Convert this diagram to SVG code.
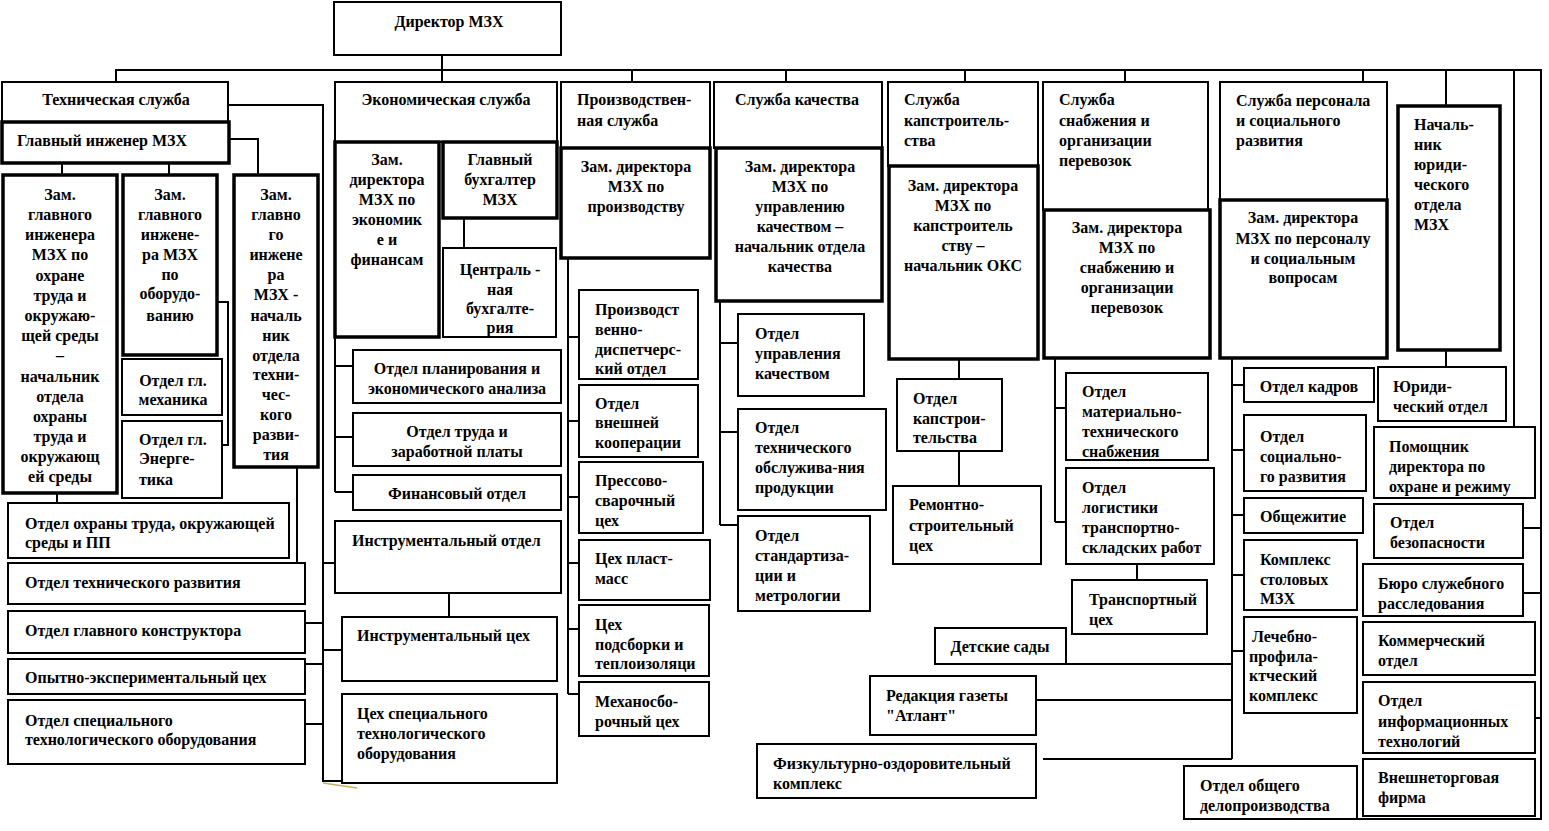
<svg xmlns="http://www.w3.org/2000/svg" width="1549" height="831" viewBox="0 0 1549 831">
<style>
rect{fill:#fff;stroke:#000;stroke-width:2}
rect.k{stroke-width:3.5}
text{font-family:"Liberation Serif","Times New Roman",serif;font-weight:bold;font-size:16px;fill:#000}
.c{text-anchor:middle}
#conn path{fill:none;stroke:#000;stroke-width:2}
</style>
<rect x="0" y="0" width="1549" height="831" style="stroke:none"/>
<g id="conn">
<path d="M442 55V82M116 82V70H1541V819H1357"/>
<path d="M632 70V82M786 70V82M965 70V82M1125 70V82M1363 70V82M1446 70V106M1514 70V427"/>
<path d="M228 105H323V781H342M323 563H335M323 650H342M305 623H323M305 664H323M305 724H323"/>
<path d="M229 139H258V175M62 163V175M169 163V175M217 302H228V445H222M57 493V503M297 467V563"/>
<path d="M335 337V492M335 366H353M335 437H353M335 492H353M464 218V248M449 593V617"/>
<path d="M568 258V694M568 337H579M568 421H579M568 497H579M568 563H579M568 629H579M568 694H579"/>
<path d="M720 301V525M720 343H738M720 432H738M720 525H738"/>
<path d="M959 359V379M959 451V486"/>
<path d="M1055 358V522M1055 408H1066M1055 522H1066M1137 564V580"/>
<path d="M1232 358V759M1232 385H1244M1232 450H1244M1232 515H1244M1232 575H1244M1232 651H1244M1066 664H1232M1036 700H1232M1043 759H1232"/>
<path d="M1446 350V367M1523 528H1541M1523 593H1541M1535 718H1541"/>
<path d="M323 783L357 788" style="stroke:#c8b060;stroke-width:1.5"/>
</g>
<g id="director"><rect x="334" y="2" width="227" height="53"/><text class="c" x="449" y="27">Директор МЗХ</text></g>
<g id="tech"><rect x="2" y="82" width="226" height="40"/><text class="c" x="116" y="105">Техническая служба</text></g>
<g id="chief-eng"><rect class="k" x="2" y="122" width="227" height="41"/><text class="c" x="102" y="146">Главный инженер МЗХ</text></g>
<g id="zam1"><rect class="k" x="3" y="175" width="114" height="318"/><text class="c"><tspan x="60" y="200">Зам.</tspan><tspan x="60" y="220">главного</tspan><tspan x="60" y="240">инженера</tspan><tspan x="60" y="260">МЗХ по</tspan><tspan x="60" y="281">охране</tspan><tspan x="60" y="301">труда и</tspan><tspan x="60" y="321">окружаю-</tspan><tspan x="60" y="341">щей среды</tspan><tspan x="60" y="361">–</tspan><tspan x="60" y="382">начальник</tspan><tspan x="60" y="402">отдела</tspan><tspan x="60" y="422">охраны</tspan><tspan x="60" y="442">труда и</tspan><tspan x="60" y="462">окружающ</tspan><tspan x="60" y="482">ей среды</tspan></text></g>
<g id="zam2"><rect class="k" x="123" y="175" width="94" height="180"/><text class="c"><tspan x="170" y="200">Зам.</tspan><tspan x="170" y="220">главного</tspan><tspan x="170" y="240">инжене-</tspan><tspan x="170" y="260">ра МЗХ</tspan><tspan x="170" y="280">по</tspan><tspan x="170" y="299">оборудо-</tspan><tspan x="170" y="321">ванию</tspan></text></g>
<g id="zam3"><rect class="k" x="234" y="175" width="84" height="292"/><text class="c"><tspan x="276" y="200">Зам.</tspan><tspan x="276" y="220">главно</tspan><tspan x="276" y="240">го</tspan><tspan x="276" y="260">инжене</tspan><tspan x="276" y="280">ра</tspan><tspan x="276" y="300">МЗХ -</tspan><tspan x="276" y="321">началь</tspan><tspan x="276" y="341">ник</tspan><tspan x="276" y="361">отдела</tspan><tspan x="276" y="380">техни-</tspan><tspan x="276" y="400">чес-</tspan><tspan x="276" y="420">кого</tspan><tspan x="276" y="440">разви-</tspan><tspan x="276" y="460">тия</tspan></text></g>
<g id="mech"><rect x="122" y="359" width="100" height="56"/><text class="c"><tspan x="173" y="386">Отдел гл.</tspan><tspan x="173" y="405">механика</tspan></text></g>
<g id="energ"><rect x="122" y="421" width="100" height="77"/><text><tspan x="139" y="445">Отдел гл.</tspan><tspan x="139" y="464">Энерге-</tspan><tspan x="139" y="485">тика</tspan></text></g>
<g id="ohrana"><rect x="8" y="503" width="281" height="55"/><text><tspan x="25" y="529">Отдел  охраны труда,  окружающей</tspan><tspan x="25" y="548">среды и ПП</tspan></text></g>
<g id="tech-razv"><rect x="8" y="563" width="297" height="41"/><text x="25" y="588">Отдел технического развития</text></g>
<g id="gl-konstr"><rect x="8" y="611" width="297" height="42"/><text x="25" y="636">Отдел главного конструктора</text></g>
<g id="opyt"><rect x="8" y="659" width="297" height="35"/><text x="25" y="683">Опытно-экспериментальный цех</text></g>
<g id="spec-obor"><rect x="8" y="700" width="297" height="64"/><text><tspan x="25" y="726">Отдел специального</tspan><tspan x="25" y="745">технологического оборудования</tspan></text></g>
<g id="econ"><rect x="335" y="82" width="222" height="60"/><text class="c" x="446" y="105">Экономическая служба</text></g>
<g id="zam-econ"><rect class="k" x="335" y="142" width="104" height="195"/><text class="c"><tspan x="387" y="165">Зам.</tspan><tspan x="387" y="185">директора</tspan><tspan x="387" y="205">МЗХ по</tspan><tspan x="387" y="225">экономик</tspan><tspan x="387" y="245">е и</tspan><tspan x="387" y="265">финансам</tspan></text></g>
<g id="gl-buh"><rect class="k" x="443" y="142" width="114" height="76"/><text class="c"><tspan x="500" y="165">Главный</tspan><tspan x="500" y="185">бухгалтер</tspan><tspan x="500" y="205">МЗХ</tspan></text></g>
<g id="centr-buh"><rect x="443" y="248" width="113" height="89"/><text class="c"><tspan x="500" y="275">Централь -</tspan><tspan x="500" y="295">ная</tspan><tspan x="500" y="314">бухгалте-</tspan><tspan x="500" y="333">рия</tspan></text></g>
<g id="plan"><rect x="353" y="350" width="208" height="53"/><text class="c"><tspan x="457" y="374">Отдел планирования и</tspan><tspan x="457" y="394">экономического анализа</tspan></text></g>
<g id="trud"><rect x="353" y="413" width="208" height="53"/><text class="c"><tspan x="457" y="437">Отдел труда и</tspan><tspan x="457" y="457">заработной платы</tspan></text></g>
<g id="fin"><rect x="353" y="475" width="208" height="35"/><text class="c" x="457" y="499">Финансовый отдел</text></g>
<g id="instr-otd"><rect x="335" y="521" width="226" height="72"/><text x="352" y="546">Инструментальный отдел</text></g>
<g id="instr-ceh"><rect x="342" y="617" width="215" height="64"/><text x="357" y="641">Инструментальный цех</text></g>
<g id="ceh-spec"><rect x="342" y="694" width="215" height="89"/><text><tspan x="357" y="719">Цех специального</tspan><tspan x="357" y="739">технологического</tspan><tspan x="357" y="759">оборудования</tspan></text></g>
<g id="proizv"><rect x="561" y="82" width="149" height="66"/><text><tspan x="577" y="105">Производствен-</tspan><tspan x="577" y="126">ная служба</tspan></text></g>
<g id="zam-proizv"><rect class="k" x="561" y="148" width="149" height="110"/><text class="c"><tspan x="636" y="172">Зам. директора</tspan><tspan x="636" y="192">МЗХ по</tspan><tspan x="636" y="212">производству</tspan></text></g>
<g id="pdo"><rect x="579" y="290" width="119" height="89"/><text><tspan x="595" y="315">Производст</tspan><tspan x="595" y="335">венно-</tspan><tspan x="595" y="355">диспетчерс-</tspan><tspan x="595" y="374">кий отдел</tspan></text></g>
<g id="vnesh"><rect x="579" y="385" width="119" height="72"/><text><tspan x="595" y="409">Отдел</tspan><tspan x="595" y="428">внешней</tspan><tspan x="595" y="448">кооперации</tspan></text></g>
<g id="press"><rect x="579" y="462" width="124" height="71"/><text><tspan x="595" y="486">Прессово-</tspan><tspan x="595" y="506">сварочный</tspan><tspan x="595" y="526">цех</tspan></text></g>
<g id="plast"><rect x="579" y="540" width="131" height="60"/><text><tspan x="595" y="564">Цех пласт-</tspan><tspan x="595" y="584">масс</tspan></text></g>
<g id="podsb"><rect x="579" y="605" width="130" height="71"/><text><tspan x="595" y="630">Цех</tspan><tspan x="595" y="650">подсборки и</tspan><tspan x="595" y="669">теплоизоляци</tspan></text></g>
<g id="mehsb"><rect x="579" y="682" width="130" height="54"/><text><tspan x="595" y="707">Механосбо-</tspan><tspan x="595" y="727">рочный цех</tspan></text></g>
<g id="kach"><rect x="714" y="82" width="168" height="66"/><text class="c" x="797" y="105">Служба качества</text></g>
<g id="zam-kach"><rect class="k" x="716" y="148" width="166" height="153"/><text class="c"><tspan x="800" y="172">Зам. директора</tspan><tspan x="800" y="192">МЗХ по</tspan><tspan x="800" y="212">управлению</tspan><tspan x="800" y="232">качеством –</tspan><tspan x="800" y="252">начальник отдела</tspan><tspan x="800" y="272">качества</tspan></text></g>
<g id="upr-kach"><rect x="738" y="314" width="126" height="82"/><text><tspan x="755" y="339">Отдел</tspan><tspan x="755" y="359">управления</tspan><tspan x="755" y="379">качеством</tspan></text></g>
<g id="tech-obsl"><rect x="738" y="409" width="148" height="101"/><text><tspan x="755" y="433">Отдел</tspan><tspan x="755" y="453">технического</tspan><tspan x="755" y="473">обслужива-ния</tspan><tspan x="755" y="493">продукции</tspan></text></g>
<g id="stand"><rect x="738" y="516" width="132" height="95"/><text><tspan x="755" y="541">Отдел</tspan><tspan x="755" y="561">стандартиза-</tspan><tspan x="755" y="581">ции и</tspan><tspan x="755" y="601">метрологии</tspan></text></g>
<g id="kap"><rect x="888" y="82" width="150" height="84"/><text><tspan x="904" y="105">Служба</tspan><tspan x="904" y="126">капстроитель-</tspan><tspan x="904" y="146">ства</tspan></text></g>
<g id="zam-kap"><rect class="k" x="889" y="166" width="149" height="193"/><text class="c"><tspan x="963" y="191">Зам. директора</tspan><tspan x="963" y="211">МЗХ по</tspan><tspan x="963" y="231">капстроитель</tspan><tspan x="963" y="251">ству –</tspan><tspan x="963" y="271">начальник ОКС</tspan></text></g>
<g id="otd-kap"><rect x="897" y="379" width="105" height="72"/><text><tspan x="913" y="404">Отдел</tspan><tspan x="913" y="424">капстрои-</tspan><tspan x="913" y="443">тельства</tspan></text></g>
<g id="rem"><rect x="893" y="486" width="148" height="78"/><text><tspan x="909" y="510">Ремонтно-</tspan><tspan x="909" y="531">строительный</tspan><tspan x="909" y="551">цех</tspan></text></g>
<g id="snab"><rect x="1043" y="82" width="165" height="128"/><text><tspan x="1059" y="105">Служба</tspan><tspan x="1059" y="126">снабжения и</tspan><tspan x="1059" y="146">организации</tspan><tspan x="1059" y="166">перевозок</tspan></text></g>
<g id="zam-snab"><rect class="k" x="1044" y="210" width="166" height="148"/><text class="c"><tspan x="1127" y="233">Зам. директора</tspan><tspan x="1127" y="253">МЗХ по</tspan><tspan x="1127" y="273">снабжению и</tspan><tspan x="1127" y="293">организации</tspan><tspan x="1127" y="313">перевозок</tspan></text></g>
<g id="mat-tech"><rect x="1066" y="373" width="142" height="87"/><text><tspan x="1082" y="397">Отдел</tspan><tspan x="1082" y="417">материально-</tspan><tspan x="1082" y="437">технического</tspan><tspan x="1082" y="457">снабжения</tspan></text></g>
<g id="logist"><rect x="1066" y="468" width="148" height="96"/><text><tspan x="1082" y="493">Отдел</tspan><tspan x="1082" y="513">логистики</tspan><tspan x="1082" y="533">транспортно-</tspan><tspan x="1082" y="553">складских работ</tspan></text></g>
<g id="transp"><rect x="1072" y="580" width="135" height="54"/><text><tspan x="1089" y="605">Транспортный</tspan><tspan x="1089" y="625">цех</tspan></text></g>
<g id="det-sady"><rect x="935" y="628" width="131" height="36"/><text class="c" x="1000" y="652">Детские сады</text></g>
<g id="redak"><rect x="870" y="676" width="166" height="59"/><text><tspan x="886" y="701">Редакция газеты</tspan><tspan x="886" y="721">"Атлант"</tspan></text></g>
<g id="fizk"><rect x="757" y="744" width="279" height="54"/><text><tspan x="773" y="769">Физкультурно-оздоровительный</tspan><tspan x="773" y="789">комплекс</tspan></text></g>
<g id="pers"><rect x="1220" y="82" width="167" height="118"/><text><tspan x="1236" y="106">Служба персонала</tspan><tspan x="1236" y="126">и социального</tspan><tspan x="1236" y="146">развития</tspan></text></g>
<g id="zam-pers"><rect class="k" x="1220" y="200" width="167" height="158"/><text class="c"><tspan x="1303" y="223">Зам. директора</tspan><tspan x="1303" y="244">МЗХ по персоналу</tspan><tspan x="1303" y="264">и социальным</tspan><tspan x="1303" y="283">вопросам</tspan></text></g>
<g id="kadr"><rect x="1244" y="368" width="130" height="34"/><text class="c" x="1309" y="392">Отдел кадров</text></g>
<g id="soc"><rect x="1244" y="415" width="122" height="76"/><text><tspan x="1260" y="442">Отдел</tspan><tspan x="1260" y="462">социально-</tspan><tspan x="1260" y="482">го развития</tspan></text></g>
<g id="obsch"><rect x="1244" y="498" width="119" height="35"/><text class="c" x="1303" y="522">Общежитие</text></g>
<g id="stol"><rect x="1244" y="540" width="113" height="70"/><text><tspan x="1260" y="565">Комплекс</tspan><tspan x="1260" y="585">столовых</tspan><tspan x="1260" y="604">МЗХ</tspan></text></g>
<g id="lech"><rect x="1244" y="617" width="113" height="96"/><text><tspan x="1252" y="642">Лечебно-</tspan><tspan x="1249" y="662">профила-</tspan><tspan x="1249" y="681">ктческий</tspan><tspan x="1249" y="701">комплекс</tspan></text></g>
<g id="nach-yur"><rect class="k" x="1398" y="106" width="102" height="244"/><text><tspan x="1414" y="130">Началь-</tspan><tspan x="1414" y="150">ник</tspan><tspan x="1414" y="170">юриди-</tspan><tspan x="1414" y="190">ческого</tspan><tspan x="1414" y="210">отдела</tspan><tspan x="1414" y="230">МЗХ</tspan></text></g>
<g id="yur-otd"><rect x="1378" y="367" width="128" height="54"/><text><tspan x="1393" y="392">Юриди-</tspan><tspan x="1393" y="412">ческий отдел</tspan></text></g>
<g id="pomosch"><rect x="1374" y="427" width="161" height="71"/><text><tspan x="1389" y="452">Помощник</tspan><tspan x="1389" y="472">директора по</tspan><tspan x="1389" y="492">охране и режиму</tspan></text></g>
<g id="bezop"><rect x="1374" y="504" width="149" height="54"/><text><tspan x="1390" y="528">Отдел</tspan><tspan x="1390" y="548">безопасности</tspan></text></g>
<g id="buro"><rect x="1363" y="564" width="160" height="52"/><text><tspan x="1378" y="589">Бюро служебного</tspan><tspan x="1378" y="609">расследования</tspan></text></g>
<g id="komm"><rect x="1363" y="622" width="172" height="53"/><text><tspan x="1378" y="646">Коммерческий</tspan><tspan x="1378" y="666">отдел</tspan></text></g>
<g id="it"><rect x="1363" y="682" width="172" height="71"/><text><tspan x="1378" y="706">Отдел</tspan><tspan x="1378" y="727">информационных</tspan><tspan x="1378" y="747">технологий</tspan></text></g>
<g id="vneshtorg"><rect x="1363" y="759" width="172" height="57"/><text><tspan x="1378" y="783">Внешнеторговая</tspan><tspan x="1378" y="803">фирма</tspan></text></g>
<g id="obsch-delo"><rect x="1184" y="766" width="173" height="53"/><text><tspan x="1200" y="791">Отдел общего</tspan><tspan x="1200" y="811">делопроизводства</tspan></text></g>
</svg>
